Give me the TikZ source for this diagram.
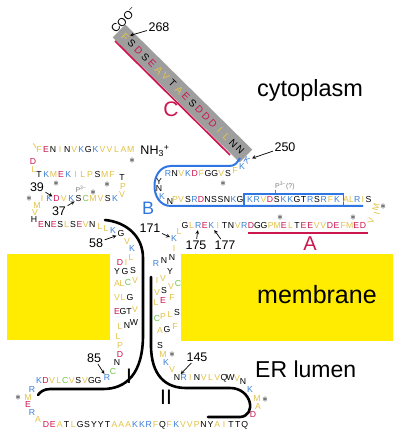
\documentclass[tikz,border=0pt]{standalone}
\usepackage{fontspec}
\setmainfont{Liberation Sans}
\usetikzlibrary{calc,fit}

\definecolor{hyd}{RGB}{226,194,72}
\definecolor{acid}{RGB}{204,22,78}
\definecolor{base}{RGB}{58,128,216}
\definecolor{cys}{RGB}{112,198,72}
\definecolor{memb}{RGB}{255,236,0}
\definecolor{helixgray}{RGB}{158,158,158}
\definecolor{loopblue}{RGB}{48,118,226}
\definecolor{phos}{RGB}{125,125,125}
% residue colours, one per letter
\colorlet{cA}{hyd}\colorlet{cV}{hyd}\colorlet{cL}{hyd}\colorlet{cI}{hyd}
\colorlet{cM}{hyd}\colorlet{cF}{hyd}\colorlet{cP}{hyd}
\colorlet{cD}{acid}\colorlet{cE}{acid}
\colorlet{cK}{base}\colorlet{cR}{base}
\colorlet{cC}{cys}
\colorlet{cG}{black}\colorlet{cS}{black}\colorlet{cT}{black}\colorlet{cN}{black}
\colorlet{cQ}{black}\colorlet{cY}{black}\colorlet{cW}{black}\colorlet{cH}{black}

\tikzset{
  res/.style={font=\fontsize{8.7}{8.7}\selectfont, inner sep=0pt, text=c#1},
  num/.style={font=\fontsize{12.5}{12.5}\selectfont, inner sep=1pt},
  numarrow/.style={-stealth, line width=0.7pt, shorten >=1pt, shorten <=0.5pt},
  star/.style={font=\fontsize{13}{13}\selectfont, inner sep=0pt},
  strand/.style={line width=2.6pt, line cap=round},
  region/.style={font=\fontsize{24}{24}\selectfont, anchor=base west, inner sep=0pt},
  seglabel/.style={font=\fontsize{19}{19}\selectfont, inner sep=0pt},
}

\begin{document}
\begin{tikzpicture}[x=1pt,y=-1pt]
\useasboundingbox (0,0) rectangle (400,435);

% membrane
\fill[memb] (7,254) rectangle (110,340);
\fill[memb] (181,254) rectangle (393,341);
\node[region,font=\fontsize{23.5}{23.5}\selectfont] (cyto) at (257,97) {cytoplasm};
\node[region,font=\fontsize{25}{25}\selectfont] (mem) at (257,303) {membrane};
\node[region,font=\fontsize{23}{23}\selectfont] (lumen) at (255,377) {ER lumen};

% helix C
\coordinate (ctop) at (119,31);
\coordinate (cbot) at (246,156);
\coordinate (hfirst) at (125,37);
\coordinate (hlast) at (240,150);
\draw[helixgray, line width=18pt] (ctop) -- (cbot);
\draw[acid, line width=1.7pt] (115,41) -- (230,155);
\foreach \l [count=\i] in {F,S,D,S,E,A,V,T,A,E,S,D,D,D,I,L,N,N}
  \node[res=\l, font=\fontsize{10}{10}\selectfont, rotate=-45] (h\i) at ($(hfirst)!{(\i-1)/17}!(hlast)$) {\l};
\node[seglabel, text=acid, font=\fontsize{21}{21}\selectfont] (labC) at (171,109) {C};
\node[font=\fontsize{11.5}{11.5}\selectfont, inner sep=0pt, rotate=45] (coo) at (124,20) {COO\textsuperscript{−}};
\node[num] (n268) at (159,27) {268};
\draw[numarrow] (n268) -- (h1);
\node[res=K, rotate=-30] (k250) at (247,160) {K};
\node[num] (n250) at (285,147) {250};
\draw[numarrow] (n250) -- (k250);

% loop B
\draw[loopblue, line width=2pt] (240,158) .. controls (237,163) and (235,166) .. (229,166)
  -- (171,166) .. controls (149,166) and (149,206) .. (171,206) -- (363,206);
\foreach \l [count=\i] in {R,N,V,K,D,F,G,G,V,S}
  \node[res=\l] (lt\i) at ({168+6.67*(\i-1)},174) {\l};
\foreach \l/\x/\y [count=\i] in {F/235/171, K/242/167}
  \node[res=\l] (lk\i) at (\x,\y) {\l};
\foreach \l/\x/\y [count=\i] in {Y/159/182, N/159/189, K/162/197, N/170/202, P/175/200, V/181/200}
  \node[res=\l] (lb\i) at (\x,\y) {\l};
\foreach \l [count=\i] in {S,R,D,N,S,S,N,K,G}
  \node[res=\l] (p\i) at ({188+6.5*(\i-1)},200) {\l};
\foreach \l [count=\i] in {K,R,V,D,S,K,K,G,T,R,S,R,F,K}
  \node[res=\l] (x\i) at ({250+6.7*(\i-1)},200) {\l};
\node[draw=loopblue, line width=1.4pt, fit=(x1)(x14), inner xsep=3pt, inner ysep=3pt] (boxB) {};
\foreach \l [count=\i] in {A,L,R,I,S}
  \node[res=\l] (al\i) at ({346+5.6*(\i-1)},200) {\l};
\foreach \l/\x/\y [count=\i] in {M/376/207, I/377/214, V/371/221}
  \node[res=\l, rotate=75] (tm\i) at (\x,\y) {\l};
\node[seglabel, text=loopblue, font=\fontsize{18}{18}\selectfont] (labB) at (148,208) {B};
\node[font=\fontsize{7}{7}\selectfont, text=phos, inner sep=0pt, anchor=south west] (phosB) at (275,190) {P\textsuperscript{3−}(?)};
\draw[phos, line width=0.5pt] (phosB.south west) -- (boxB.north -| phosB.south west);

% segment A
\foreach \l [count=\i] in {G,L,R,E,K,I,T,N,V,R,D,G,G,P,M,E,L,T,E,E,V,V,D,E,F,M,E,D}
  \node[res=\l] (g\i) at ({185+6.59*(\i-1)},226) {\l};
\draw[acid, line width=1.7pt] (248,233) -- (368,233);
\node[seglabel, text=acid, font=\fontsize{20}{20}\selectfont] (labA) at (310,244) {A};
\node[num] (n175) at (196,245) {175};
\node[num] (n177) at (225,245) {177};
\draw[numarrow] (n175) -- (g3);
\draw[numarrow] (n177) -- (g5);

% N-terminal part
\node[res=I, rotate=30] (t0) at (35,146) {I};
\foreach \l [count=\i] in {F,E,N,I,N,V,K,G,K,V,V,L,A,M}
  \node[res=\l] (t\i) at ({39+7.05*(\i-1)},150) {\l};
\node[font=\fontsize{12.5}{12.5}\selectfont, inner sep=0pt] (nterm) at (155,151) {NH\textsubscript{3}\textsuperscript{+}};
\foreach \l/\x/\y [count=\i] in {D/33/162, L/34/170}
  \node[res=\l] (d\i) at (\x,\y) {\l};
\foreach \l [count=\i] in {T,K,M,E,K,I,L,P,S,M,F}
  \node[res=\l] (u\i) at ({39+7.3*(\i-1)},175) {\l};
\foreach \l/\x/\y [count=\i] in {T/122/178, P/123/187, V/122/195}
  \node[res=\l] (v\i) at (\x,\y) {\l};
\foreach \l [count=\i] in {I,K,D,V,K,S,C,M,V,S,K}
  \node[res=\l] (w\i) at ({42+7.3*(\i-1)},199) {\l};
\node[font=\fontsize{7}{7}\selectfont, text=phos, inner sep=0pt] (phosN) at (81,189) {P\textsuperscript{3−}};
\foreach \l/\x/\y [count=\i] in {M/37/206, V/35/213, H/34/220}
  \node[res=\l] (y\i) at (\x,\y) {\l};
\foreach \l [count=\i] in {E,N,E,S,L,S,E,V,N}
  \node[res=\l] (e\i) at ({41+6.4*(\i-1)},225) {\l};
\foreach \l/\x/\y [count=\i] in {L/100/227, L/106/229, K/113/231, G/121/234, V/127/242, K/132/249}
  \node[res=\l] (m\i) at (\x,\y) {\l};
\node[num] (n39) at (37,187) {39};
\node[num] (n37) at (59,211) {37};
\node[num] (n58) at (96,243) {58};
\draw[numarrow] (n39) -- (w3);
\draw[numarrow] (n37) -- (w6);
\draw[numarrow] (n58) -- (m4);

% helix I
\draw[strand] (105,220) .. controls (126,222) and (143,236) .. (143,258) -- (143,335)
  .. controls (143,374) and (126,389) .. (103,389) -- (50,389)
  .. controls (44,389) and (40,392) .. (38,395);
\foreach \l/\x/\y [count=\i] in {D/120/263, I/126/263, L/131/258,
    Y/117/272, G/125/272, S/133/271,
    A/117/284, L/122/284, C/128/283, V/135/281,
    V/117/298, L/123/298, G/130/298,
    E/117/312, G/123/312, T/129/312, V/135/310,
    L/120/327, N/127/326, W/134/323,
    L/118/337, P/120/346, D/120/355, N/117/363, C/113/372, R/107/378}
  \node[res=\l] (s\i) at (\x,\y) {\l};
\node[seglabel, font=\fontsize{21}{21}\selectfont] (labI) at (129,376) {I};
\node[num] (n85) at (94,358) {85};
\draw[numarrow] (n85) -- (s26);

% lumen loop
\foreach \l [count=\i] in {K,D,V,L,C,V,S,V,G,G}
  \node[res=\l] (lr\i) at ({39+6.56*(\i-1)},381) {\l};
\foreach \l/\x/\y [count=\i] in {R/32/390, M/28/398, E/28/405, R/32/413, A/38/420}
  \node[res=\l] (lc\i) at (\x,\y) {\l};
\foreach \l [count=\i] in {D,E,A,T,L,G,S,Y,Y,T,A,A,A,K,K,R,F,Q,F,K,V,V,P,N,Y,A,I,T,T,Q}
  \node[res=\l] (bt\i) at ({46+6.85*(\i-1)},425) {\l};
\foreach \l/\x/\y [count=\i] in {D/253/415, A/258/407, M/257/399, K/250/390, N/243/382, V/237/379}
  \node[res=\l] (rc\i) at (\x,\y) {\l};
\foreach \l [count=\i] in {N,R,I,N,V,L,V,Q,W}
  \node[res=\l] (ur\i) at ({177+6.7*(\i-1)},378) {\l};

% helix II
\draw[strand] (151,277) -- (151,345) .. controls (151,376) and (166,388) .. (186,388)
  -- (230,388) .. controls (252,388) and (257,416) .. (240,417) -- (208,417);
\foreach \l/\x/\y [count=\i] in {V/172/370, K/166/363, M/163/355, S/160/346,
    A/160/331, G/167/330, F/175/327,
    C/157/319, P/163/317, L/170/315, S/177/313,
    L/156/303, E/163/301, F/172/298,
    V/157/293, S/164/291, V/171/287, C/178/284,
    I/157/281, V/163/279, Y/170/272,
    R/156/264, N/164/261, N/172/258, I/174/249}
  \node[res=\l] (q\i) at (\x,\y) {\l};
\node[res=K] (k171) at (174,239) {K};
\node[res=L] (l172) at (179,232) {L};
\node[seglabel, font=\fontsize{21}{21}\selectfont] (labII) at (166,397) {II};
\node[num] (n145) at (197,357) {145};
\node[num] (n171) at (150,228) {171};
\draw[numarrow] (n145) -- (ur1);
\draw[numarrow] (n171) -- (k171);

% stars mark Met
\foreach \x/\y in {132/161, 56/184, 107/185, 93/193, 29/199, 223/184, 280/218,
    353/218, 383/207, 172/355, 18/398, 265/400}
  \node[star] at (\x,\y) {$\ast$};
\end{tikzpicture}
\end{document}
